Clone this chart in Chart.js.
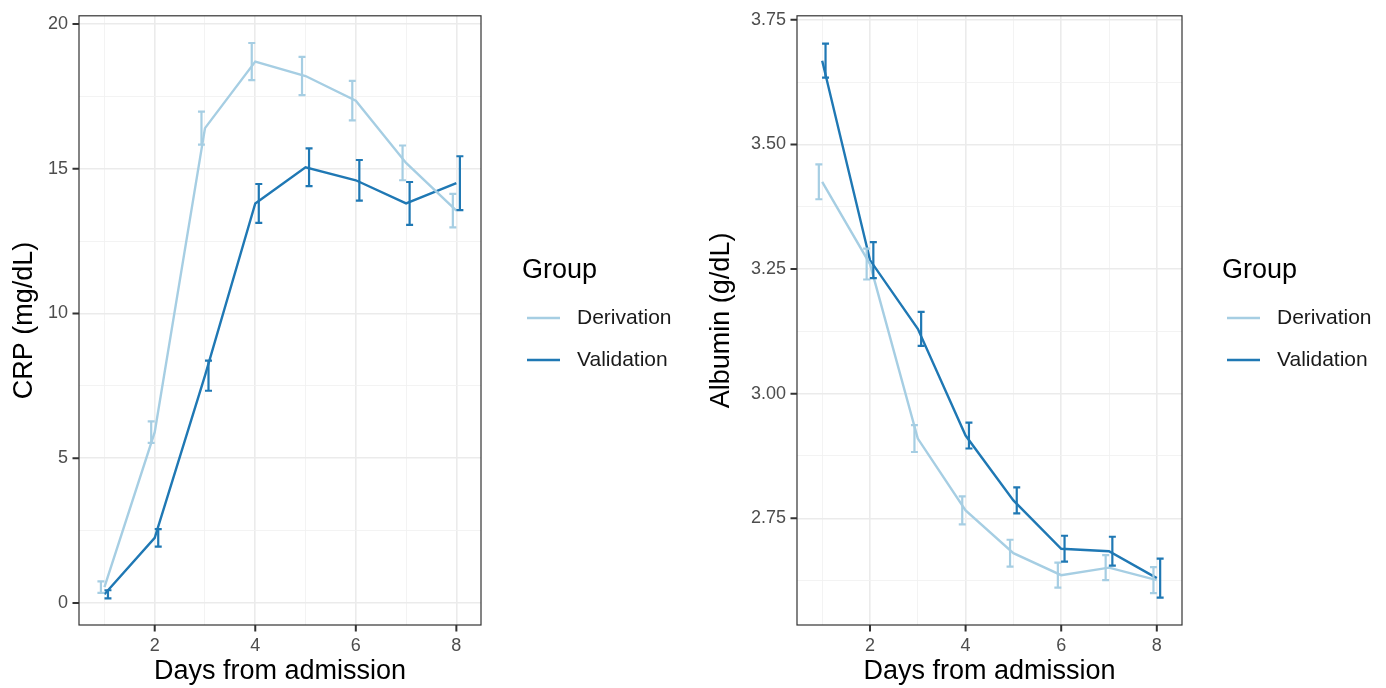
<!DOCTYPE html>
<html>
<head>
  <title>CRP and Albumin by day</title>
  <script src="https://cdn.jsdelivr.net/npm/chart.js"></script>
  <style>
    body { margin: 0; background: #fff; }
    #wrap { position: relative; width: 1386px; height: 688px; }
    canvas { position: absolute; top: 0; }
    #crpChart { left: 0; }
    #albChart { left: 700px; }
  </style>
</head>
<body>
  <div id="wrap">
    <canvas id="crpChart" width="700" height="688"></canvas>
    <canvas id="albChart" width="686" height="688"></canvas>
  </div>

  <script>
    // days and group names
    const days = [1, 2, 3, 4, 5, 6, 7, 8];
    const groups = ['Derivation', 'Validation'];

    // CRP (mg/dL): mean and error half-width
    const crpDerivMean = [0.55, 5.9, 16.4, 18.7, 18.2, 17.35, 15.2, 13.55];
    const crpDerivErr  = [0.2, 0.37, 0.57, 0.64, 0.66, 0.68, 0.6, 0.58];
    const crpValidMean = [0.3, 2.25, 7.85, 13.8, 15.05, 14.6, 13.8, 14.5];
    const crpValidErr  = [0.14, 0.3, 0.52, 0.67, 0.65, 0.7, 0.74, 0.93];

    // Albumin (g/dL)
    const albDerivMean = [3.425, 3.26, 2.91, 2.766, 2.68, 2.636, 2.651, 2.626];
    const albDerivErr  = [0.035, 0.031, 0.027, 0.028, 0.027, 0.025, 0.025, 0.026];
    const albValidMean = [3.668, 3.268, 3.13, 2.916, 2.786, 2.689, 2.684, 2.63];
    const albValidErr  = [0.034, 0.036, 0.034, 0.026, 0.026, 0.026, 0.029, 0.039];

    // tick positions (major labelled, minor only gridlines)
    const xTicks = [1, 2, 3, 4, 5, 6, 7, 8];
    const xLabels = [2, 4, 6, 8];
    const crpTicks = [0, 2.5, 5, 7.5, 10, 12.5, 15, 17.5, 20];
    const crpLabels = [0, 5, 10, 15, 20];
    const albTicks = [2.625, 2.75, 2.875, 3, 3.125, 3.25, 3.375, 3.5, 3.625, 3.75];
    const albLabels = [2.75, 3, 3.25, 3.5, 3.75];

    const colors = ['#A6CEE3', '#1F78B4'];
    const dodge = 0.07;
    const FONT = "'Liberation Sans', Arial, sans-serif";

    const isIn = (arr, v) => arr.some(a => Math.abs(a - v) < 1e-9);

    // error bars, dodged a little left/right of each day
    function errorBars(errs) {
      return {
        id: 'errorBars',
        afterDatasetsDraw(chart) {
          const x = chart.scales.x, y = chart.scales.y;
          const ctx = chart.ctx;
          ctx.save();
          ctx.lineWidth = 2.2;
          chart.data.datasets.forEach((ds, i) => {
            ctx.strokeStyle = colors[i];
            const off = i === 0 ? -dodge : dodge;
            ds.data.forEach((p, j) => {
              const px = x.getPixelForValue(p.x + off);
              const top = y.getPixelForValue(p.y + errs[i][j]);
              const bot = y.getPixelForValue(p.y - errs[i][j]);
              ctx.beginPath();
              ctx.moveTo(px, top); ctx.lineTo(px, bot);
              ctx.moveTo(px - 3.5, top); ctx.lineTo(px + 3.5, top);
              ctx.moveTo(px - 3.5, bot); ctx.lineTo(px + 3.5, bot);
              ctx.stroke();
            });
          });
          ctx.restore();
        }
      };
    }

    // panel border, tick marks, legend at the right
    function panelExtras(yLabels) {
      return {
        id: 'panelExtras',
        afterDraw(chart) {
          const ctx = chart.ctx;
          const a = chart.chartArea;
          ctx.save();
          ctx.strokeStyle = '#333333';
          ctx.lineWidth = 1.2;
          ctx.strokeRect(a.left, a.top, a.right - a.left, a.bottom - a.top);

          ctx.lineWidth = 2;
          ctx.beginPath();
          for (const v of xLabels) {
            const px = chart.scales.x.getPixelForValue(v);
            ctx.moveTo(px, a.bottom); ctx.lineTo(px, a.bottom + 6.5);
          }
          for (const v of yLabels) {
            const py = chart.scales.y.getPixelForValue(v);
            ctx.moveTo(a.left - 6.5, py); ctx.lineTo(a.left, py);
          }
          ctx.stroke();

          ctx.fillStyle = '#000';
          ctx.textBaseline = 'middle';
          ctx.font = '27px ' + FONT;
          ctx.fillText('Group', 522, 271);
          ctx.font = '21px ' + FONT;
          ctx.fillStyle = '#1a1a1a';
          groups.forEach((g, i) => {
            const ly = 318 + i * 42;
            ctx.strokeStyle = colors[i];
            ctx.lineWidth = 2.4;
            ctx.beginPath();
            ctx.moveTo(527, ly); ctx.lineTo(560, ly);
            ctx.stroke();
            ctx.fillText(g, 577, ly);
          });
          ctx.restore();
        }
      };
    }

    function makeChart(id, o) {
      const ctx = document.getElementById(id).getContext('2d');
      return new Chart(ctx, {
        type: 'line',
        data: {
          datasets: [
            { label: groups[0], data: days.map((d, i) => ({ x: d, y: o.mean[0][i] })),
              borderColor: colors[0], borderWidth: 2.4, pointRadius: 0, tension: 0 },
            { label: groups[1], data: days.map((d, i) => ({ x: d, y: o.mean[1][i] })),
              borderColor: colors[1], borderWidth: 2.4, pointRadius: 0, tension: 0 }
          ]
        },
        options: {
          responsive: false,
          animation: false,
          layout: { padding: { top: o.top, right: o.right, left: 0, bottom: 0 } },
          plugins: {
            legend: { display: false },
            tooltip: { enabled: false }
          },
          scales: {
            x: {
              type: 'linear',
              min: o.xmin, max: o.xmax,
              afterBuildTicks: s => { s.ticks = xTicks.map(v => ({ value: v })); },
              afterFit: s => { s.height = 63; },
              border: { display: false },
              grid: {
                color: c => isIn(xLabels, c.tick.value) ? '#EBEBEB' : '#F2F2F2',
                lineWidth: c => isIn(xLabels, c.tick.value) ? 1.6 : 0.9,
                tickLength: 6,
                tickColor: 'rgba(0,0,0,0)'
              },
              ticks: {
                padding: 4,
                color: '#4D4D4D',
                font: { family: FONT, size: 18 },
                maxRotation: 0,
                autoSkip: false,
                callback: v => isIn(xLabels, v) ? String(v) : ''
              },
              title: {
                display: true, text: 'Days from admission', color: '#000',
                font: { family: FONT, size: 27 }, padding: { top: 0, bottom: 0 }
              }
            },
            y: {
              type: 'linear',
              min: o.ymin, max: o.ymax,
              afterBuildTicks: s => { s.ticks = o.yTicks.map(v => ({ value: v })); },
              afterFit: s => { s.width = o.left; },
              border: { display: false },
              grid: {
                color: c => isIn(o.yLabels, c.tick.value) ? '#EBEBEB' : '#F2F2F2',
                lineWidth: c => isIn(o.yLabels, c.tick.value) ? 1.6 : 0.9,
                tickLength: 6,
                tickColor: 'rgba(0,0,0,0)'
              },
              ticks: {
                padding: 5,
                color: '#4D4D4D',
                font: { family: FONT, size: 18 },
                autoSkip: false,
                callback: v => isIn(o.yLabels, v) ? o.fmt(v) : ''
              },
              title: {
                display: true, text: o.yTitle, color: '#000',
                font: { family: FONT, size: 27 }, padding: { top: o.titlePad, bottom: 0 }
              }
            }
          }
        },
        plugins: [errorBars(o.errs), panelExtras(o.yLabels)]
      });
    }

    makeChart('crpChart', {
      mean: [crpDerivMean, crpValidMean], errs: [crpDerivErr, crpValidErr],
      xmin: 0.494, xmax: 8.49, ymin: -0.76, ymax: 20.28,
      yTicks: crpTicks, yLabels: crpLabels, fmt: v => String(v),
      yTitle: 'CRP (mg/dL)', left: 79, right: 219, top: 15, titlePad: 8
    });

    makeChart('albChart', {
      mean: [albDerivMean, albValidMean], errs: [albDerivErr, albValidErr],
      xmin: 0.473, xmax: 8.527, ymin: 2.536, ymax: 3.758,
      yTicks: albTicks, yLabels: albLabels, fmt: v => v.toFixed(2),
      yTitle: 'Albumin (g/dL)', left: 97, right: 204, top: 14, titlePad: 5
    });
  </script>
</body>
</html>
